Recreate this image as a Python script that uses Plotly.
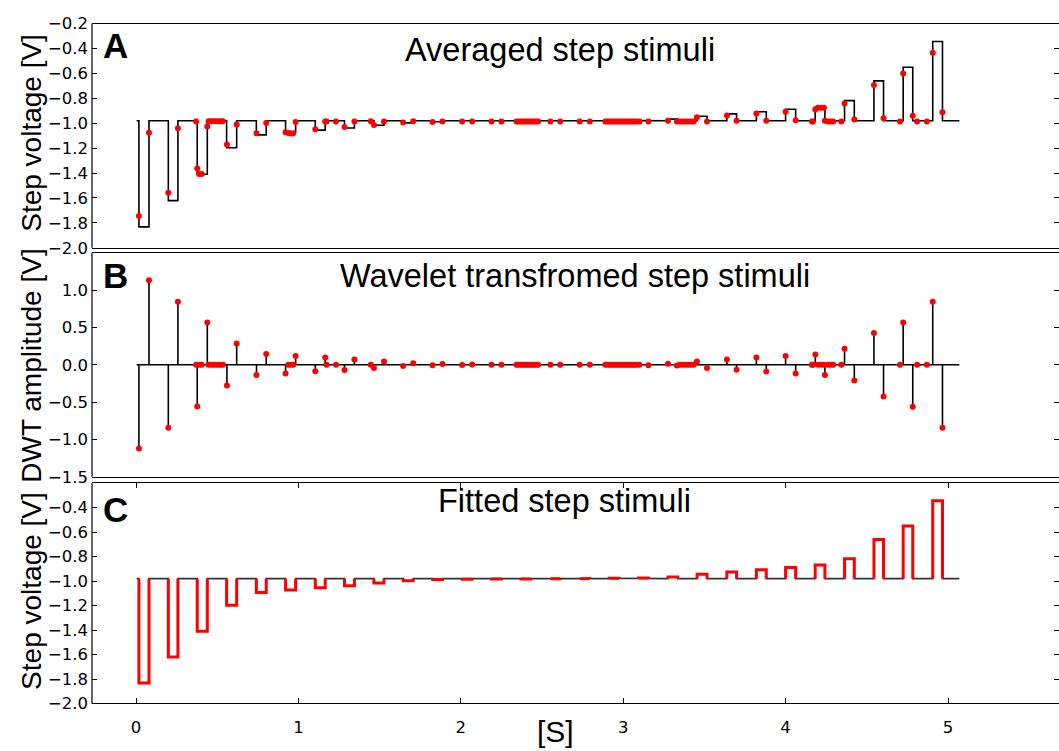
import plotly.graph_objects as go

# ---------------- data ----------------
baseline = -0.980
t_begin, t_end = 0.004, 5.07

pulse_start = [0.018, 0.199, 0.377, 0.558, 0.741, 0.921, 1.104, 1.284, 1.465, 1.646,
               1.827, 2.008, 2.189, 2.371, 2.552, 2.733, 2.914, 3.095, 3.276, 3.455,
               3.638, 3.820, 4.000, 4.182, 4.363, 4.544, 4.724, 4.906]
pulse_end = [0.080, 0.258, 0.439, 0.620, 0.802, 0.983, 1.165, 1.345, 1.527, 1.707,
             1.887, 2.069, 2.250, 2.431, 2.612, 2.794, 2.974, 3.155, 3.336, 3.516,
             3.698, 3.881, 4.062, 4.242, 4.423, 4.603, 4.783, 4.966]
pulse_level = [-1.832, -1.621, -1.410, -1.197, -1.093, -1.072, -1.055, -1.038, -1.016, -0.997,
               -0.988, -0.985, -0.983, -0.982, -0.981, -0.979, -0.977, -0.975, -0.967, -0.944,
               -0.925, -0.908, -0.888, -0.869, -0.818, -0.660, -0.550, -0.343]

dwt_t = [0.018, 0.080, 0.199, 0.258,
         0.370, 0.377, 0.389, 0.405, 0.439,
         0.447, 0.462, 0.477, 0.492, 0.507, 0.522, 0.535,
         0.560, 0.620, 0.742, 0.802,
         0.921, 0.938, 0.953, 0.968, 0.983,
         1.104, 1.165, 1.173, 1.231, 1.284, 1.345,
         1.446, 1.465, 1.527, 1.645, 1.707,
         1.826, 1.887, 2.008, 2.070, 2.189, 2.250,
         2.343, 2.355, 2.367, 2.379, 2.391, 2.403, 2.415, 2.427, 2.439, 2.451, 2.463, 2.476,
         2.552, 2.612, 2.732, 2.794,
         2.890, 2.902, 2.914, 2.926, 2.938, 2.950, 2.962, 2.974, 2.986, 2.998,
         3.010, 3.022, 3.034, 3.046, 3.058, 3.070, 3.082, 3.100,
         3.155, 3.276,
         3.331, 3.348, 3.365, 3.382, 3.399, 3.416, 3.434,
         3.454, 3.516, 3.639, 3.698, 3.820, 3.881, 4.000, 4.062,
         4.162, 4.168, 4.183, 4.199, 4.219, 4.236, 4.242, 4.261, 4.277, 4.293,
         4.343, 4.363, 4.423, 4.544, 4.603,
         4.704, 4.724, 4.783, 4.810, 4.870, 4.906, 4.966]

dot_a = [-1.744, -1.077, -1.557, -1.040,
         -0.985, -1.364, -1.408, -1.408, -1.027,
         -0.983, -0.983, -0.983, -0.983, -0.983, -0.983, -0.983,
         -1.170, -1.009, -1.080, -0.998,
         -1.072, -1.078, -1.082, -1.080, -0.990,
         -1.048, -0.985, -0.985, -0.985, -1.030, -0.985,
         -0.983, -1.014, -0.985, -0.993, -0.983,
         -0.990, -0.985, -0.985, -0.985, -0.985, -0.985,
         -0.985, -0.985, -0.985, -0.985, -0.985, -0.985, -0.985, -0.985, -0.985, -0.985, -0.985, -0.985,
         -0.985, -0.985, -0.985, -0.985,
         -0.985, -0.985, -0.985, -0.985, -0.985, -0.985, -0.985, -0.985, -0.985, -0.985,
         -0.985, -0.985, -0.985, -0.985, -0.985, -0.985, -0.985, -0.985,
         -0.985, -0.980,
         -0.985, -0.985, -0.985, -0.985, -0.985, -0.985, -0.985,
         -0.952, -0.985, -0.938, -0.980, -0.922, -0.980, -0.907, -0.975,
         -0.985, -0.985, -0.889, -0.876, -0.876, -0.876, -0.980, -0.985, -0.985, -0.985,
         -0.985, -0.842, -0.970, -0.693, -0.960,
         -0.985, -0.600, -0.940, -0.985, -0.985, -0.433, -0.912]

dwt_b = [-1.120, 1.130, -0.844, 0.844,
         0.0, -0.558, 0.0, 0.0, 0.567,
         0.0, 0.0, 0.0, 0.0, 0.0, 0.0, 0.0,
         -0.277, 0.286, -0.138, 0.143,
         -0.117, 0.0, 0.0, 0.0, 0.117,
         -0.086, 0.096, 0.0, 0.0, -0.069, 0.070,
         0.0, -0.043, 0.044, -0.017, 0.022,
         -0.008, 0.010, -0.004, 0.004, 0.0, 0.0,
         0.0, 0.0, 0.0, 0.0, 0.0, 0.0, 0.0, 0.0, 0.0, 0.0, 0.0, 0.0,
         0.0, 0.0, 0.0, 0.0,
         0.0, 0.0, 0.0, 0.0, 0.0, 0.0, 0.0, 0.0, 0.0, 0.0,
         0.0, 0.0, 0.0, 0.0, 0.0, 0.0, 0.0, 0.0,
         -0.008, 0.015,
         -0.010, 0.0, 0.0, 0.0, 0.0, 0.0, 0.0,
         0.044, -0.043, 0.070, -0.065, 0.096, -0.090, 0.117, -0.117,
         0.0, 0.0, 0.139, 0.0, 0.0, 0.0, -0.138, 0.0, 0.0, 0.0,
         0.0, 0.213, -0.212, 0.425, -0.424,
         0.0, 0.564, -0.562, 0.0, 0.0, 0.844, -0.844]

x_ticks = [0, 1, 2, 3, 4, 5]
volt_ticks = [-2.0, -1.8, -1.6, -1.4, -1.2, -1.0, -0.8, -0.6, -0.4, -0.2]
volt_ticks_c = [-2.0, -1.8, -1.6, -1.4, -1.2, -1.0, -0.8, -0.6, -0.4]
dwt_ticks = [-1.5, -1.0, -0.5, 0.0, 0.5, 1.0]

# ---------------- build step signal ----------------
step_x, step_y = [t_begin], [baseline]
for s, e, lv in zip(pulse_start, pulse_end, pulse_level):
    step_x += [s, s, e, e]
    step_y += [baseline, lv, lv, baseline]
step_x.append(t_end)
step_y.append(baseline)

red_x, red_y = [], []
for s, e, lv in zip(pulse_start, pulse_end, pulse_level):
    red_x += [s, s, e, e, None]
    red_y += [baseline, lv, lv, baseline, None]

stem_x, stem_y = [], []
for t, b in zip(dwt_t, dwt_b):
    stem_x += [t, t, None]
    stem_y += [0.0, b, None]

W, H = 1059, 751
fig = go.Figure()

BLACK = "#000000"
RED = "#ff0000"

# Panel A
fig.add_trace(go.Scatter(x=step_x, y=step_y, mode="lines", line=dict(color=BLACK, width=1.6),
                         xaxis="x", yaxis="y", hoverinfo="skip"))
fig.add_trace(go.Scatter(x=dwt_t, y=dot_a, mode="markers", marker=dict(color=RED, size=6),
                         xaxis="x", yaxis="y"))
# Panel B
fig.add_trace(go.Scatter(x=[t_begin, t_end], y=[0.0, 0.0], mode="lines",
                         line=dict(color=BLACK, width=1.6), xaxis="x2", yaxis="y2"))
fig.add_trace(go.Scatter(x=stem_x, y=stem_y, mode="lines", line=dict(color=BLACK, width=1.6),
                         xaxis="x2", yaxis="y2", connectgaps=False))
fig.add_trace(go.Scatter(x=dwt_t, y=dwt_b, mode="markers", marker=dict(color=RED, size=6),
                         xaxis="x2", yaxis="y2"))
# Panel C
fig.add_trace(go.Scatter(x=step_x, y=step_y, mode="lines", line=dict(color="#333333", width=1.6),
                         xaxis="x3", yaxis="y3"))
fig.add_trace(go.Scatter(x=red_x, y=red_y, mode="lines", line=dict(color=RED, width=3),
                         xaxis="x3", yaxis="y3", connectgaps=False))

x_left = 92
x_range = [(x_left - 136) / 162.4, (W - 136) / 162.4]
xdom = [x_left / W, 1.0]


def ydom(top_px, bot_px):
    return [1 - bot_px / H, 1 - top_px / H]


panels = [(15, 245), (250, 480), (486.5, 712.5)]

tickfont = dict(family="DejaVu Sans", size=16.5, color=BLACK)
common_x = dict(range=x_range, domain=xdom, showgrid=False, zeroline=False, showline=True,
                linecolor=BLACK, linewidth=1.2, mirror=True)
common_y = dict(showgrid=False, zeroline=False, showline=False,
                mirror="ticks", ticks="inside", ticklen=5, tickcolor=BLACK, tickwidth=1,
                tickfont=tickfont, tickformat=".1f", ticklabelstandoff=3)

fig.update_layout(
    width=W, height=H, margin=dict(l=0, r=0, t=0, b=0),
    paper_bgcolor="white", plot_bgcolor="white", showlegend=False,
    xaxis=dict(common_x, anchor="y", showticklabels=False, ticks=""),
    xaxis2=dict(common_x, anchor="y2", showticklabels=False, ticks=""),
    xaxis3=dict(common_x, anchor="y3", tickvals=x_ticks, ticks="inside", ticklen=5,
                tickcolor=BLACK, mirror="ticks", tickfont=tickfont, ticklabelstandoff=9),
    yaxis=dict(common_y, anchor="x", domain=ydom(*panels[0]), range=[-2.0, -0.2], tickvals=volt_ticks),
    yaxis2=dict(common_y, anchor="x2", domain=ydom(*panels[1]), range=[-1.5, 1.5], tickvals=dwt_ticks),
    yaxis3=dict(common_y, anchor="x3", domain=ydom(*panels[2]), range=[-2.0, -0.2], tickvals=volt_ticks_c),
)

# left spines (right spine lies just outside the picture, as in the original)
for top_px, bot_px in panels:
    fig.add_shape(type="line", xref="paper", yref="paper", x0=x_left / W, x1=x_left / W,
                  y0=1 - bot_px / H, y1=1 - top_px / H, line=dict(color=BLACK, width=1.2))


def ann(text, px, py, size, bold=False, angle=0, xanchor="center", family="Liberation Sans"):
    fig.add_annotation(text=("<b>%s</b>" % text) if bold else text, x=px / W, y=1 - py / H,
                       xref="paper", yref="paper", showarrow=False, xanchor=xanchor,
                       yanchor="middle", textangle=angle,
                       font=dict(family=family, size=size, color=BLACK))


ann("Averaged step stimuli", 560, 42, 32.5)
ann("Wavelet transfromed step stimuli", 574.5, 274, 32.5)
ann("Fitted step stimuli", 564, 505, 32.5)
ann("A", 101, 37, 35, bold=True, xanchor="left")
ann("B", 101, 273, 35, bold=True, xanchor="left")
ann("C", 101, 513, 35, bold=True, xanchor="left")
ann("[S]", 555, 741, 30)
ann("Step voltage [V]", 32, 127, 28, angle=-90)
ann("DWT amplitude [V]", 32, 366, 28, angle=-90)
ann("Step voltage [V]", 32, 597, 28, angle=-90)

fig.write_html("out.html")
